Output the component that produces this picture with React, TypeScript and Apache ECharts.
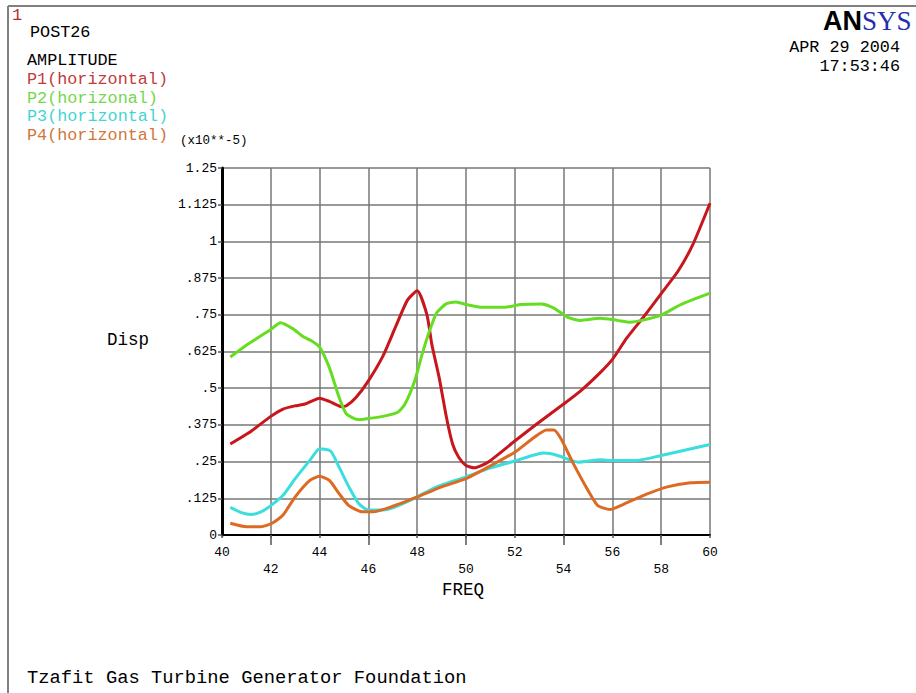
import React, { useEffect, useRef } from "react";
import * as echarts from "echarts";

const p1Freq = [40.34, 41.1, 42, 42.5, 43, 43.4, 44, 44.4, 44.9, 45.1, 45.5, 46, 46.6, 47.1, 47.6, 48, 48.4, 48.6, 48.9, 49.2, 49.45, 49.7, 50, 50.34, 50.9, 52, 52.9, 54, 54.7, 55.5, 56, 56.6, 57.3, 58, 58.7, 59.3, 60];
const p1Vals = [0.31, 0.348, 0.404, 0.429, 0.44, 0.446, 0.466, 0.455, 0.437, 0.44, 0.469, 0.525, 0.61, 0.706, 0.8, 0.832, 0.75, 0.649, 0.536, 0.4, 0.31, 0.265, 0.237, 0.229, 0.248, 0.32, 0.378, 0.446, 0.491, 0.553, 0.598, 0.672, 0.745, 0.822, 0.9, 0.99, 1.13];

const p2Freq = [40.34, 41.1, 42, 42.4, 42.9, 43.3, 43.7, 44, 44.4, 44.8, 45.1, 45.6, 46, 46.6, 47.2, 47.5, 47.9, 48.2, 48.5, 48.8, 49.2, 49.6, 50, 50.6, 51.6, 52.25, 53.1, 53.6, 54.2, 54.7, 55.5, 56.2, 56.75, 57.2, 58, 58.8, 60];
const p2Vals = [0.606, 0.652, 0.7, 0.723, 0.703, 0.677, 0.66, 0.64, 0.57, 0.469, 0.412, 0.393, 0.397, 0.404, 0.418, 0.446, 0.525, 0.615, 0.694, 0.757, 0.788, 0.794, 0.785, 0.776, 0.776, 0.785, 0.787, 0.773, 0.74, 0.731, 0.738, 0.731, 0.725, 0.731, 0.749, 0.785, 0.824];

const p3Freq = [40.34, 40.8, 41.2, 41.6, 42, 42.5, 43, 43.6, 44, 44.45, 44.8, 45.2, 45.6, 46, 46.6, 47.1, 48, 48.8, 50, 50.9, 52, 53.2, 53.75, 54.6, 55.5, 56, 57, 58, 60];
const p3Vals = [0.094, 0.076, 0.07, 0.079, 0.1, 0.135, 0.192, 0.254, 0.294, 0.286, 0.231, 0.164, 0.107, 0.085, 0.085, 0.096, 0.13, 0.164, 0.198, 0.226, 0.252, 0.279, 0.271, 0.248, 0.256, 0.254, 0.254, 0.271, 0.308];

const p4Freq = [40.34, 41, 41.6, 42.05, 42.5, 43, 43.6, 44, 44.4, 44.8, 45.2, 45.75, 46.2, 47, 48, 49, 50, 50.9, 52, 52.8, 53.3, 53.6, 53.9, 54.4, 55, 55.4, 55.9, 56.6, 57.4, 58.25, 59.2, 60];
const p4Vals = [0.04, 0.028, 0.028, 0.04, 0.068, 0.13, 0.186, 0.2, 0.186, 0.141, 0.1, 0.079, 0.079, 0.098, 0.13, 0.164, 0.192, 0.231, 0.282, 0.333, 0.358, 0.358, 0.327, 0.243, 0.152, 0.1, 0.087, 0.11, 0.139, 0.164, 0.178, 0.18];

const evenTicks = [40, 44, 48, 52, 56, 60];
const oddTicks = [42, 46, 50, 54, 58];

const seriesNames = ["P1(horizontal)", "P2(horizonal)", "P3(horizontal)", "P4(horizontal)"];
const lineColors = ["#c8161d", "#66dd22", "#3adede", "#dd6a22"];
const textColors = ["#c03a3a", "#74d64c", "#44d4d4", "#d0763a"];

const MONO = "'Liberation Mono', 'DejaVu Sans Mono', monospace";

function pairs(xs: number[], ys: number[]) {
  return xs.map((x, i) => [x, ys[i]]);
}

export default function App() {
  const ref = useRef<HTMLDivElement>(null);
  useEffect(() => {
    if (!ref.current) return;
    const chart = echarts.init(ref.current, null, { renderer: "svg" });
    const allF = [p1Freq, p2Freq, p3Freq, p4Freq];
    const allV = [p1Vals, p2Vals, p3Vals, p4Vals];
    const legendTexts = seriesNames.map((n, i) => ({
      type: "text",
      left: 27,
      top: 71 + i * 18.6,
      style: { text: n, fill: textColors[i], font: `16.8px ${MONO}` },
    }));
    chart.setOption({
      animation: false,
      backgroundColor: "#ffffff",
      grid: { left: 222, right: 206, top: 168, bottom: 158, containLabel: false },
      xAxis: [
        {
          type: "value",
          min: 40,
          max: 60,
          interval: 2,
          position: "bottom",
          axisLine: { show: true, lineStyle: { color: "#000", width: 2 } },
          axisTick: { show: true, length: 3, lineStyle: { color: "#555", width: 1.5 } },
          axisLabel: {
            customValues: evenTicks,
            margin: 11,
            color: "#000",
            fontFamily: MONO,
            fontSize: 13,
          },
          splitLine: { show: true, lineStyle: { color: "#777", width: 1.5 } },
        },
        {
          type: "value",
          min: 40,
          max: 60,
          position: "bottom",
          axisLine: { show: false },
          axisTick: { show: true, customValues: oddTicks, length: 10, lineStyle: { color: "#555", width: 1.5 } },
          axisLabel: {
            customValues: oddTicks,
            margin: 28,
            color: "#000",
            fontFamily: MONO,
            fontSize: 13,
          },
          splitLine: { show: false },
        },
      ],
      yAxis: {
        type: "value",
        min: 0,
        max: 1.25,
        interval: 0.125,
        axisLine: { show: true, lineStyle: { color: "#000", width: 3 } },
        axisTick: { show: true, length: 4, lineStyle: { color: "#555", width: 1.5 } },
        axisLabel: {
          margin: 5,
          color: "#000",
          fontFamily: MONO,
          fontSize: 13,
          formatter: (v: number) => (v === 0 ? "0" : String(+v.toFixed(3)).replace(/^0\./, ".")),
        },
        splitLine: { show: true, lineStyle: { color: "#777", width: 1.5 } },
      },
      series: allF.map((f, i) => ({
        type: "line",
        name: seriesNames[i],
        data: pairs(f, allV[i]),
        smooth: 0.2,
        showSymbol: false,
        symbol: "none",
        lineStyle: { color: lineColors[i], width: 3 },
        z: 3,
      })),
      graphic: [
        { type: "line", shape: { x1: 8, y1: 6, x2: 916, y2: 6 }, style: { stroke: "#808080", lineWidth: 2 } },
        { type: "line", shape: { x1: 8, y1: 6, x2: 8, y2: 693 }, style: { stroke: "#808080", lineWidth: 2 } },
        { type: "text", left: 12, top: 7, style: { text: "1", fill: "#b03030", font: `17px ${MONO}` } },
        { type: "text", left: 30, top: 24, style: { text: "POST26", fill: "#000", font: `16.8px ${MONO}` } },
        { type: "text", left: 27, top: 52, style: { text: "AMPLITUDE", fill: "#000", font: `16.8px ${MONO}` } },
        ...legendTexts,
        { type: "text", left: 180, top: 134, style: { text: "(x10**-5)", fill: "#000", font: `12.5px ${MONO}` } },
        { type: "text", left: 107, top: 331, style: { text: "Disp", fill: "#000", font: `17.5px ${MONO}` } },
        { type: "text", left: 442, top: 581, style: { text: "FREQ", fill: "#000", font: `17.5px ${MONO}` } },
        { type: "text", left: 27, top: 668, style: { text: "Tzafit Gas Turbine Generator Foundation", fill: "#000", font: `18.8px ${MONO}` } },
        { type: "text", right: 16, top: 39, style: { text: "APR 29 2004", fill: "#000", font: `16.8px ${MONO}`, align: "right" } },
        { type: "text", right: 16, top: 58, style: { text: "17:53:46", fill: "#000", font: `16.8px ${MONO}`, align: "right" } },
        {
          type: "text",
          x: 823,
          y: 7,
          style: {
            text: "{a|AN}{b|SYS}",
            rich: {
              a: { fontFamily: "'Liberation Sans', Arial, sans-serif", fontWeight: "bold", fontSize: 27, fill: "#000", color: "#000" },
              b: { fontFamily: "'Liberation Serif', serif", fontSize: 27, fill: "#1f2fb0", color: "#1f2fb0" },
            },
          },
        },
      ],
    });
    return () => chart.dispose();
  }, []);
  return (
    <div
      ref={ref}
      style={{ position: "fixed", left: 0, top: 0, width: 916, height: 693, background: "#fff" }}
    />
  );
}
